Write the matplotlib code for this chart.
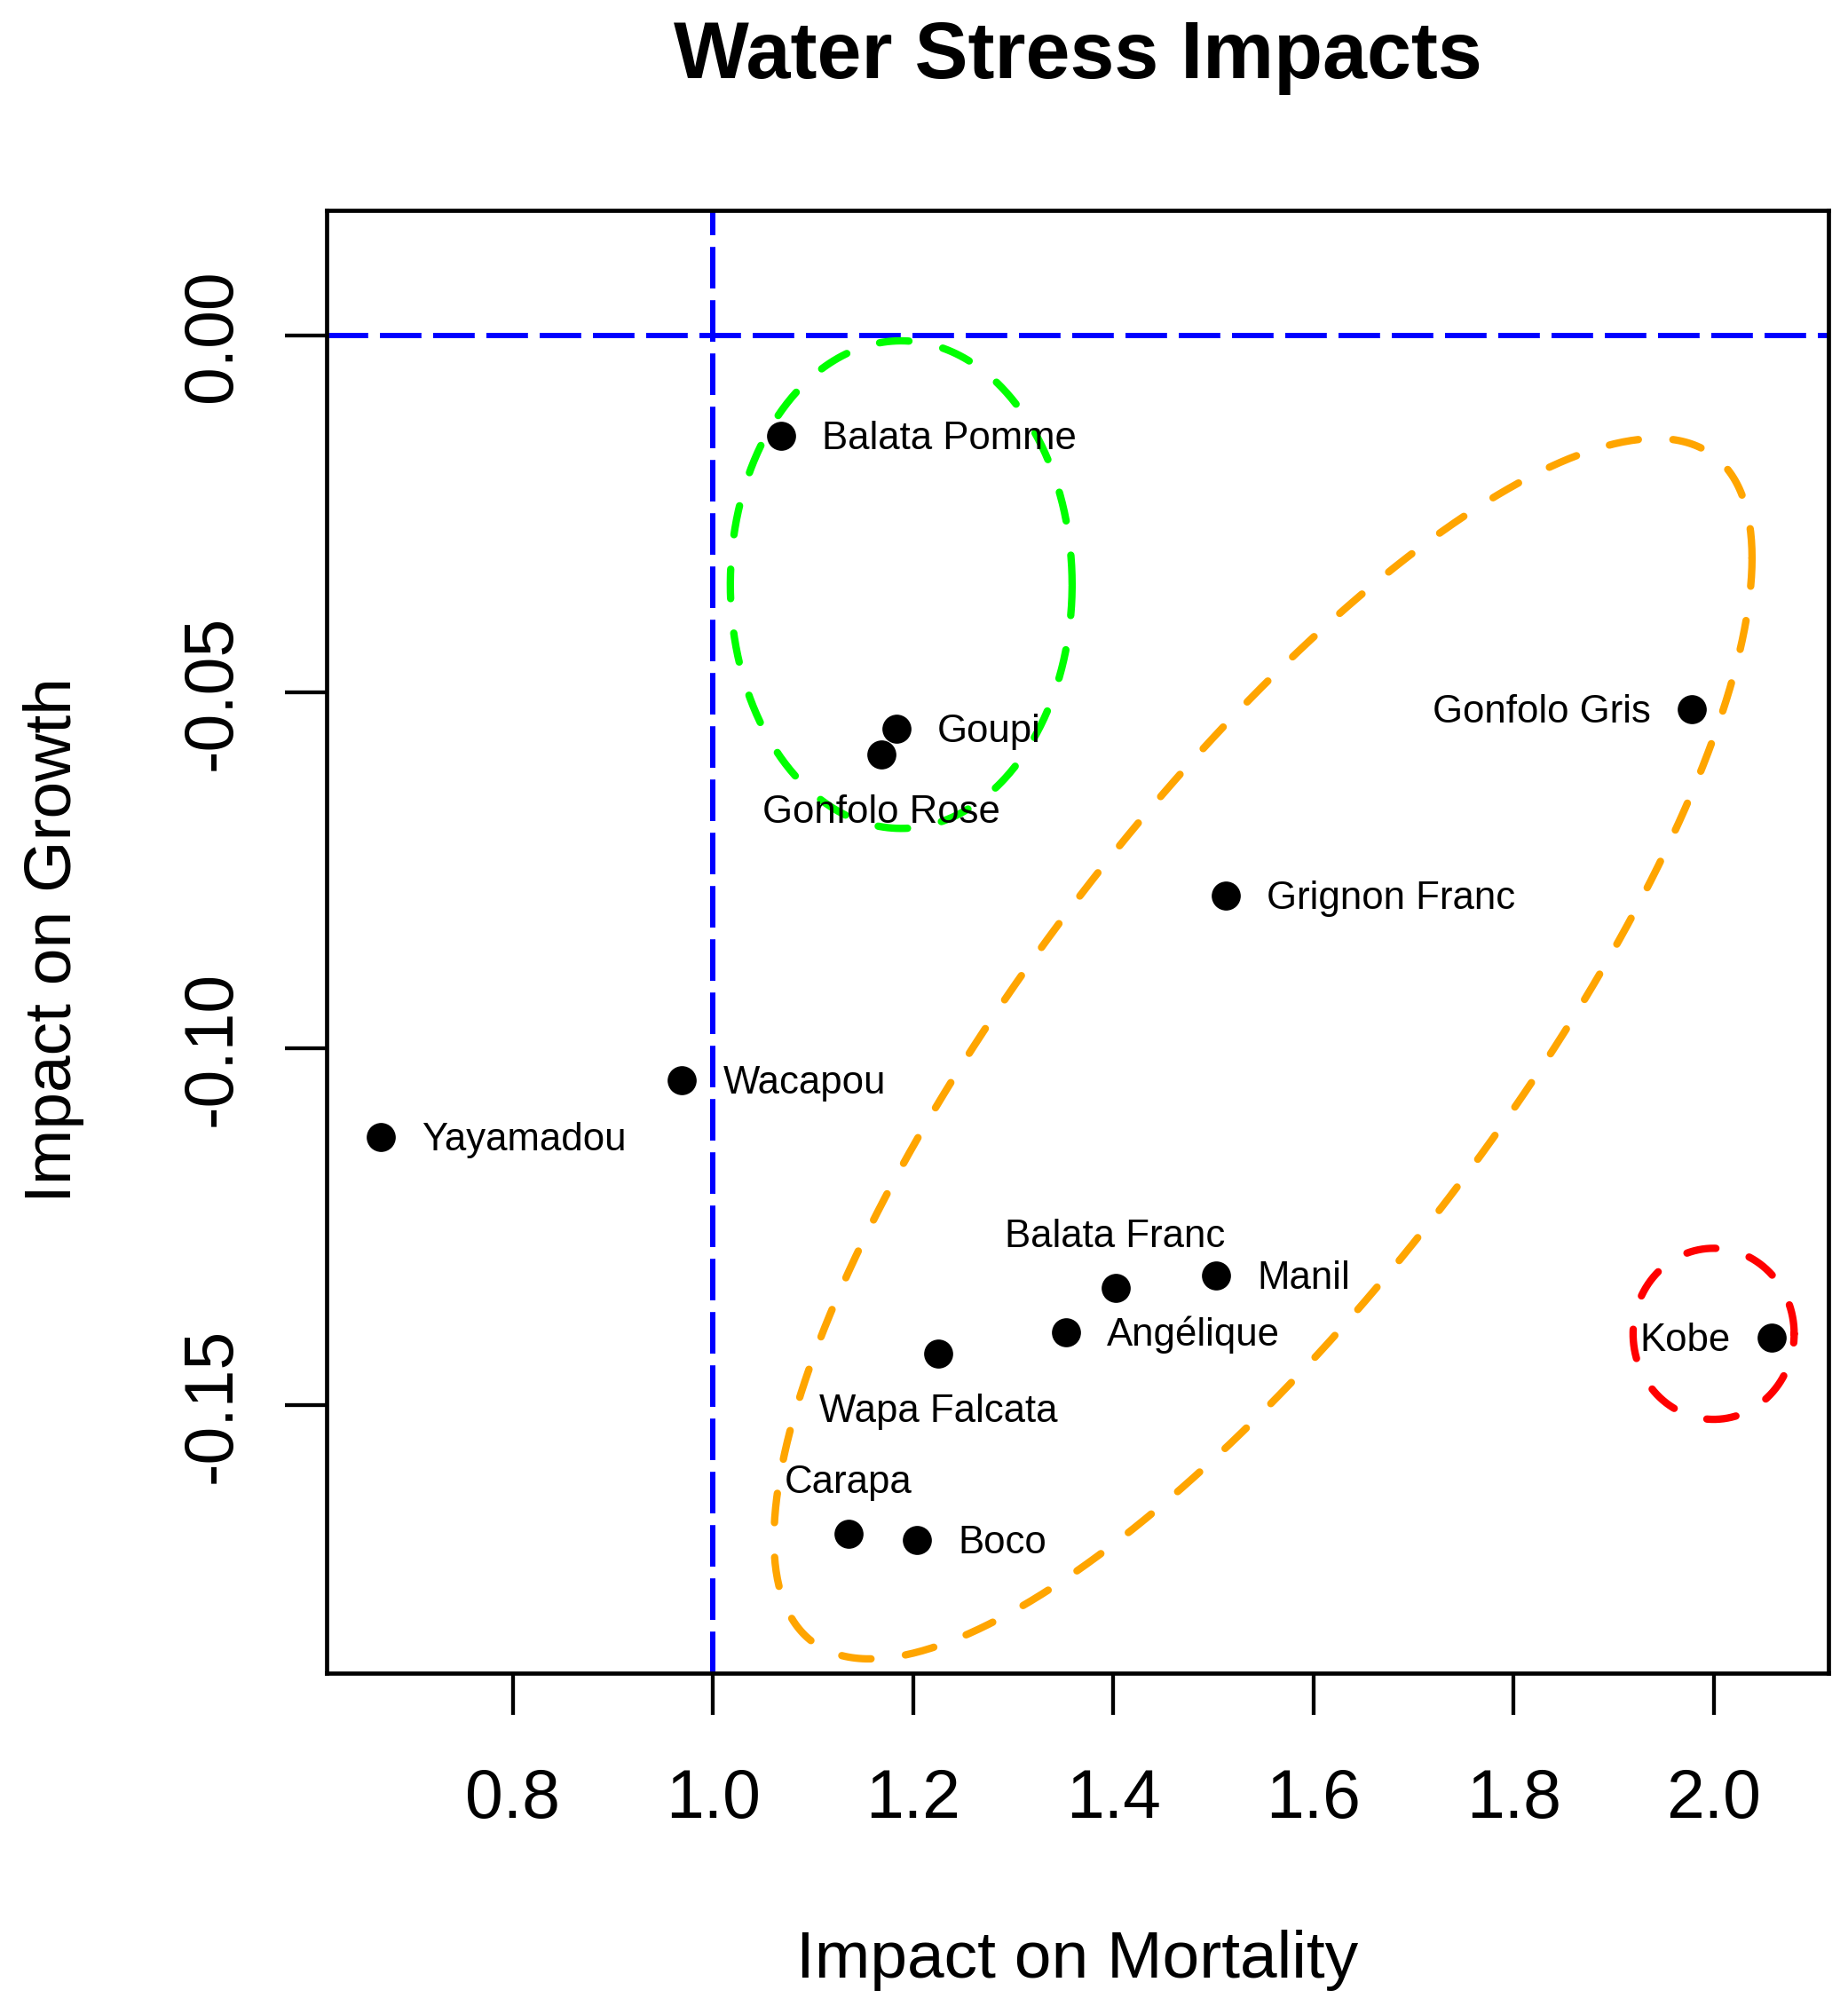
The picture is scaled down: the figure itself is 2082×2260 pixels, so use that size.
import numpy as np
import matplotlib
matplotlib.use("Agg")
import matplotlib.pyplot as plt
from matplotlib.transforms import blended_transform_factory

# ---------------- data ----------------
species = ["Balata Pomme", "Goupi", "Gonfolo Rose", "Gonfolo Gris", "Grignon Franc",
           "Wacapou", "Yayamadou", "Balata Franc", "Manil", "Angélique", "Kobe",
           "Wapa Falcata", "Carapa", "Boco"]
mortality = [1.068, 1.183, 1.168, 1.978, 1.512, 0.969, 0.668, 1.402, 1.503, 1.353,
             2.058, 1.225, 1.135, 1.204]
growth = [-0.0140, -0.0551, -0.0587, -0.0524, -0.0785, -0.1044, -0.1124, -0.1336,
          -0.1318, -0.1398, -0.1405, -0.1428, -0.1680, -0.1689]
label_side = ["right", "right", "below", "left", "right", "right", "right", "above",
              "right", "right", "left", "below", "above", "right"]

xticks = [0.8, 1.0, 1.2, 1.4, 1.6, 1.8, 2.0]
xtick_labels = ["0.8", "1.0", "1.2", "1.4", "1.6", "1.8", "2.0"]
yticks = [0.00, -0.05, -0.10, -0.15]
ytick_labels = ["0.00", "-0.05", "-0.10", "-0.15"]

# group ellipses: centre, semi-axes, correlation
group_colors = ["#00FF00", "#FFA500", "#FF0000"]
group_cx = [1.188, 1.5496, 2.000]
group_cy = [-0.0349, -0.1000, -0.1400]
group_ax = [0.1708, 0.4888, 0.0805]
group_ay = [0.0342, 0.0856, 0.0120]
group_r = [0.0, 0.804, 0.0]

ref_x = 1.0
ref_y = 0.0

# ---------------- figure ----------------
W, H = 2082, 2260
DPI = 100
plt.rcParams["font.family"] = ["Liberation Sans", "DejaVu Sans"]

fig = plt.figure(figsize=(W / DPI, H / DPI), dpi=DPI)
L, R, T, B = 368, 2060, 237, 1885
ax = fig.add_axes([L / W, 1 - B / H, (R - L) / W, (B - T) / H])
ax.set_xlim(0.6137, 2.1148)
ax.set_ylim(-0.1876, 0.0176)

PT = 72.0 / DPI  # points per pixel

for s in ax.spines.values():
    s.set_linewidth(4.7 * PT)
    s.set_color("black")

ax.set_xticks(xticks)
ax.set_yticks(yticks)
ax.set_xticklabels([])
ax.set_yticklabels([])
ax.tick_params(axis="both", direction="out", length=47 * PT, width=4.3 * PT,
               color="black")

# reference lines
blue_lw = 6 * PT
ax.axhline(ref_y, color="#0000FF", lw=blue_lw, dashes=(7.8, 2.2),
           dash_capstyle="butt", zorder=2)
ax.axvline(ref_x, color="#0000FF", lw=blue_lw, dashes=(7.8, 2.2),
           dash_capstyle="butt", zorder=2)

# group ellipses
t = np.linspace(0, 2 * np.pi, 500)
ell_lw = 8.3 * PT
for c, cx, cy, a, b, r in zip(group_colors, group_cx, group_cy, group_ax, group_ay, group_r):
    d = np.arccos(r)
    ex = cx + a * np.cos(t)
    ey = cy + b * np.cos(t - d)
    ax.plot(ex, ey, color=c, lw=ell_lw, dashes=(4.0, 4.7),
            dash_capstyle="round", zorder=3)

# points
ax.plot(mortality, growth, "o", color="black", markersize=32.7 * PT,
        markeredgewidth=0, zorder=4, linestyle="none")

# point labels
lab_fs = 31.5
cap_half = 15.0
offsets = {
    "right": ((46, -cap_half), "left"),
    "left": ((-46, -cap_half), "right"),
    "below": ((0, -77), "center"),
    "above": ((0, 46), "center"),
}
for name, x, y, side in zip(species, mortality, growth, label_side):
    off, ha = offsets[side]
    ax.annotate(name, (x, y), xytext=off, textcoords="offset pixels",
                ha=ha, va="baseline", fontsize=lab_fs, color="black", zorder=5)

# tick labels
tick_fs = 55.4
trx = blended_transform_factory(ax.transData, fig.transFigure)
for v, s in zip(xticks, xtick_labels):
    ax.text(v, 1 - 2048 / H, s, transform=trx, ha="center", va="baseline",
            fontsize=tick_fs, clip_on=False)
try_ = blended_transform_factory(fig.transFigure, ax.transData)
for v, s in zip(yticks, ytick_labels):
    ax.text(260 / W, v, s, transform=try_, ha="center", va="baseline",
            rotation=90, rotation_mode="anchor", fontsize=tick_fs, clip_on=False)

# axis labels and title
cx_fig = ((L + R) / 2) / W
fig.text(cx_fig, 1 - 2228 / H, "Impact on Mortality", ha="center", va="baseline",
         fontsize=54)
fig.text(80 / W, 1 - 1059 / H, "Impact on Growth", ha="center", va="baseline",
         rotation=90, rotation_mode="anchor", fontsize=54)
fig.text(cx_fig, 1 - 88 / H, "Water Stress Impacts", ha="center", va="baseline",
         fontsize=64.7, fontweight="bold")

fig.savefig("out.png", dpi=DPI)
